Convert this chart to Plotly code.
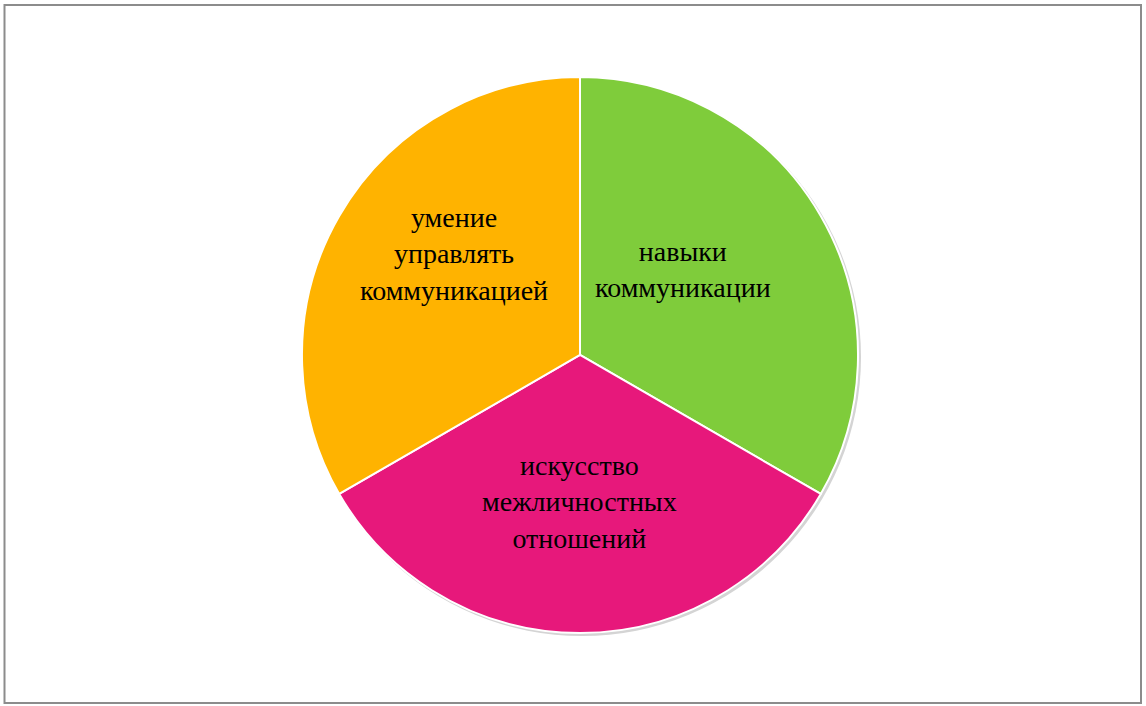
import math
import plotly.graph_objects as go

labels = ["навыки<br>коммуникации", "искусство<br>межличностных<br>отношений", "умение<br>управлять<br>коммуникацией"]
values = [1, 1, 1]
colors = ["#7FCC3B", "#E7187B", "#FFB300"]

W, H = 1146, 706
dom_x = [0.2635, 0.7487]
dom_y = [0.1034, 0.891]

# label placement (pixel offsets from pie centre), style only
label_offsets = [(103, -85), (0, 147), (-126, -101)]

fig = go.Figure(go.Pie(
    labels=labels,
    values=values,
    sort=False,
    direction="clockwise",
    rotation=0,
    marker=dict(colors=colors, line=dict(color="white", width=2)),
    textinfo="none",
    hoverinfo="label",
    showlegend=False,
    domain=dict(x=dom_x, y=dom_y),
))

cx = (dom_x[0] + dom_x[1]) / 2
cy = (dom_y[0] + dom_y[1]) / 2
r_px = min((dom_x[1] - dom_x[0]) * W, (dom_y[1] - dom_y[0]) * H) / 2

annotations = []
for lab, (dx, dy) in zip(labels, label_offsets):
    annotations.append(dict(
        text=lab, xref="paper", yref="paper",
        x=cx + dx / W, y=cy - dy / H,
        showarrow=False, xanchor="center", yanchor="middle", align="center",
        font=dict(family="Liberation Serif", size=28, color="black"),
    ))

shadow_off = 2
fig.update_layout(
    width=W, height=H,
    margin=dict(l=0, r=0, t=0, b=0),
    paper_bgcolor="white",
    plot_bgcolor="white",
    annotations=annotations,
    shapes=[
        dict(type="rect", xref="paper", yref="paper",
             x0=4.5 / W, x1=1141 / W, y0=1 - 703 / H, y1=1 - 5 / H,
             line=dict(color="#8c8c8c", width=2)),
        dict(type="circle", xref="paper", yref="paper", layer="below",
             x0=cx - (r_px + 1) / W + shadow_off / W, x1=cx + (r_px + 1) / W + shadow_off / W,
             y0=cy - (r_px + 1) / H - shadow_off / H, y1=cy + (r_px + 1) / H - shadow_off / H,
             fillcolor="#d4d4d4", line=dict(width=0)),
    ],
)

fig.write_html("out.html", config={"displayModeBar": False},
               post_script="document.body.style.margin='0';")
